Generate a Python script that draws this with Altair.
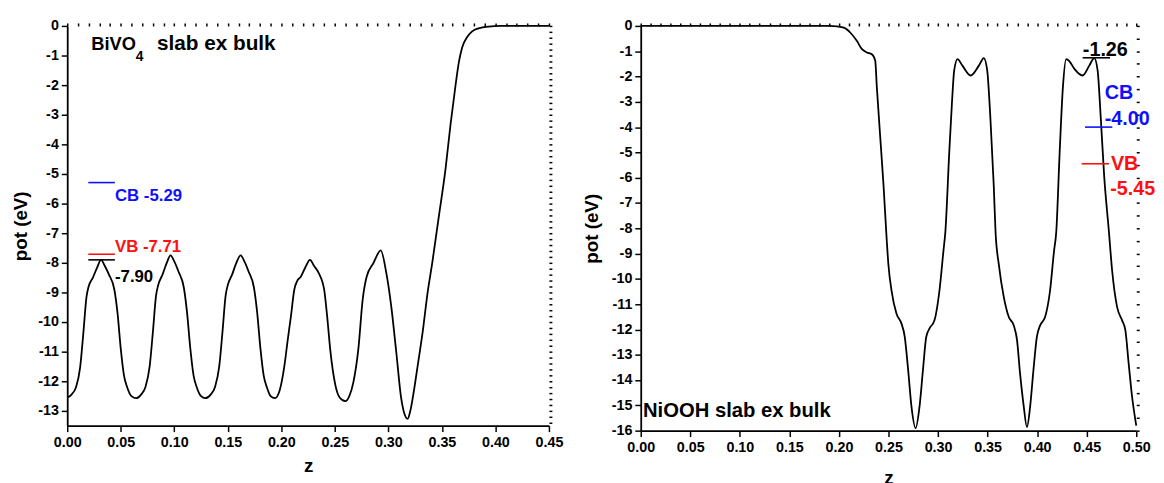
import altair as alt
import pandas as pd

FONT = "Liberation Sans"

# ---------------- BiVO4 potential profile ----------------
BIVO_Z = [0.000, 0.004, 0.008, 0.012, 0.015, 0.018, 0.020, 0.024, 0.028, 0.0316,
          0.035, 0.039, 0.044, 0.047, 0.050, 0.053, 0.056, 0.060, 0.0645,
          0.069, 0.073, 0.077, 0.080, 0.083, 0.085, 0.089, 0.093, 0.0965,
          0.100, 0.104, 0.109, 0.112, 0.115, 0.118, 0.121, 0.125, 0.129,
          0.134, 0.138, 0.142, 0.145, 0.148, 0.150, 0.154, 0.158, 0.162,
          0.1655, 0.1695, 0.1745, 0.1775, 0.1805, 0.1835, 0.1865, 0.190, 0.194,
          0.1985, 0.2029, 0.206, 0.209, 0.2121, 0.215, 0.2182, 0.2225, 0.2268,
          0.2305, 0.235, 0.240, 0.2428, 0.2459, 0.2505, 0.2545, 0.2597,
          0.2635, 0.2674, 0.272, 0.276, 0.2797, 0.2859, 0.2929,
          0.2981, 0.3027, 0.3074, 0.312, 0.315, 0.318, 0.3205, 0.3227, 0.3274,
          0.332, 0.3366, 0.341, 0.347, 0.3535, 0.358, 0.3627, 0.366, 0.369,
          0.3735, 0.378, 0.3842, 0.3934, 0.405, 0.45]
BIVO_POT = [-12.55, -12.45, -12.22, -11.55, -10.40, -9.15, -8.80, -8.50, -8.15, -7.90,
            -8.10, -8.40, -8.90, -9.70, -10.90, -11.80, -12.20, -12.50, -12.57,
            -12.45, -12.20, -11.50, -10.35, -9.10, -8.75, -8.40, -8.00, -7.75,
            -7.95, -8.30, -8.85, -9.70, -10.90, -11.80, -12.20, -12.50, -12.57,
            -12.45, -12.20, -11.50, -10.35, -9.10, -8.75, -8.40, -8.00, -7.75,
            -7.95, -8.30, -8.85, -9.70, -10.90, -11.80, -12.20, -12.50, -12.57,
            -12.30, -11.47, -10.60, -9.80, -8.91, -8.60, -8.47, -8.15, -7.90,
            -8.10, -8.35, -8.90, -9.80, -11.00, -12.13, -12.55, -12.67,
            -12.50, -12.02, -10.90, -9.24, -8.47, -8.02, -7.58,
            -8.35, -9.47, -11.02, -12.58, -13.10, -13.27, -13.00, -12.58, -11.47,
            -10.35, -9.02, -8.00, -6.47, -4.80, -3.35, -2.02, -1.20, -0.72,
            -0.38, -0.19, -0.08, -0.02, 0.0, 0.0]

BIVO_LEVEL_VALUES = [-5.29, -7.71, -7.90]
BIVO_LEVEL_COLORS = ["#1010ff", "#ff1010", "#000000"]
BIVO_LEVEL_Z1 = [0.0197, 0.0197, 0.0197]
BIVO_LEVEL_Z2 = [0.0445, 0.0445, 0.0445]
BIVO_LABELS = ["CB -5.29", "VB -7.71", "-7.90"]
BIVO_LABEL_Z = [0.0446, 0.0446, 0.0446]
BIVO_LABEL_POT = [-5.91, -7.63, -8.65]

# ---------------- NiOOH potential profile ----------------
NIOOH_Z = [0.000, 0.190, 0.198, 0.205, 0.2116, 0.2182, 0.2232, 0.2282, 0.2332, 0.2366,
           0.2382, 0.2416, 0.245, 0.2483, 0.2499, 0.2531, 0.2581, 0.2631, 0.2664,
           0.2698, 0.2731, 0.2774, 0.2814, 0.2848, 0.2881, 0.2914, 0.2964, 0.3014,
           0.3054, 0.3074, 0.3113, 0.314, 0.3163, 0.3196, 0.3246, 0.3329, 0.3412,
           0.3462, 0.3496, 0.3529, 0.3562, 0.358, 0.3613, 0.3664, 0.3714, 0.3764,
           0.3797, 0.3827, 0.3864, 0.3897, 0.3930, 0.3963, 0.3997, 0.403, 0.408,
           0.413, 0.417, 0.4193, 0.4227, 0.426, 0.4293, 0.4326, 0.4376, 0.4459,
           0.4526, 0.4576, 0.461, 0.4643, 0.4676, 0.4724, 0.4757, 0.4807, 0.4857,
           0.489, 0.4923, 0.4957, 0.500]
NIOOH_POT = [0.00, 0.00, -0.02, -0.07, -0.27, -0.60, -0.92, -1.05, -1.12, -1.37,
             -2.40, -4.36, -6.31, -8.52, -9.43, -10.47, -11.38, -11.77, -12.29,
             -13.59, -15.02, -15.90, -15.02, -13.59, -12.29, -11.96, -11.64, -10.47,
             -8.91, -8.13, -5.01, -3.06, -1.76, -1.31, -1.57, -1.96, -1.57,
             -1.27, -1.76, -3.71, -6.31, -8.13, -9.43, -10.73, -11.51, -11.84,
             -12.42, -13.72, -15.02, -15.86, -15.02, -13.59, -12.29, -11.84, -11.51,
             -10.47, -8.91, -8.13, -5.01, -2.41, -1.31, -1.40, -1.70, -1.96,
             -1.57, -1.27, -1.76, -3.71, -5.92, -8.13, -9.69, -11.12, -11.64,
             -12.03, -13.33, -14.63, -15.80]

NIOOH_LEVEL_VALUES = [-1.26, -4.00, -5.45]
NIOOH_LEVEL_COLORS = ["#000000", "#1010ff", "#ff1010"]
NIOOH_LEVEL_Z1 = [0.4459, 0.4483, 0.4449]
NIOOH_LEVEL_Z2 = [0.4735, 0.4758, 0.4725]
NIOOH_LABELS = ["-1.26", "CB", "-4.00", "VB", "-5.45"]
NIOOH_LABEL_COLORS = ["#000000", "#1010ff", "#1010ff", "#ff1010", "#ff1010"]
NIOOH_LABEL_Z = [0.4461, 0.4682, 0.4682, 0.4744, 0.4737]
NIOOH_LABEL_POT = [-1.18, -2.87, -3.91, -5.69, -6.70]

# ---------------- ticks ----------------
BIVO_X_MAJOR = [round(0.05 * i, 2) for i in range(0, 10)]
BIVO_X_MINOR = [round(0.01 * i, 2) for i in range(0, 46)]
NIOOH_X_MAJOR = [round(0.05 * i, 2) for i in range(0, 11)]
NIOOH_X_MINOR = [round(0.01 * i, 2) for i in range(0, 51)]
BIVO_Y_MAJOR = [-i for i in range(0, 14)]
BIVO_Y_MINOR = [round(-0.2 * i, 1) for i in range(0, 68)]
NIOOH_Y_MAJOR = [-i for i in range(0, 17)]
NIOOH_Y_MINOR = [round(-0.5 * i, 1) for i in range(0, 33)]


def major_x(values, title_y):
    return alt.Axis(
        values=values, title="z", titleY=title_y, titleBaseline="middle",
        format=".2f", tickSize=6, labelOverlap=False, labelFlush=False,
        labelPadding=4, grid=False, labelFont=FONT, labelFontWeight=700,
        labelFontSize=14.5,
    )


def major_y(values, title_x, title_y):
    return alt.Axis(
        values=values, title="pot (eV)", titleX=title_x, titleY=title_y,
        titleBaseline="middle", titleAngle=-90,
        labelExpr="'' + round(datum.value)", tickSize=6,
        labelOverlap=False, labelFlush=False, labelPadding=3, grid=False,
        labelFont=FONT, labelFontWeight=700, labelFontSize=14.5,
    )


def minor_axis(values):
    return alt.Axis(values=values, labels=False, domain=False, title=None,
                    tickSize=3, grid=False)


def panel(zs, pots, xdom, ydom, xmaj, xmin, ymaj, ymin, xt_y, yt_x, yt_y,
          lv, lcol, lz1, lz2, labels, lab_col, lab_z, lab_pot, lab_size,
          titles, w, h):
    xs = alt.Scale(domain=xdom, nice=False, zero=False)
    ys = alt.Scale(domain=ydom, nice=False, zero=False)
    curve = alt.Chart(pd.DataFrame({"z": zs, "pot": pots})).mark_line(
        color="black", strokeWidth=1.8, interpolate="monotone"
    ).encode(
        x=alt.X("z:Q", scale=xs, axis=major_x(xmaj, xt_y)),
        y=alt.Y("pot:Q", scale=ys, axis=major_y(ymaj, yt_x, yt_y)),
    )
    rules = alt.Chart(pd.DataFrame({"z1": lz1, "z2": lz2, "v": lv, "c": lcol})).mark_rule(
        strokeWidth=1.6
    ).encode(
        x=alt.X("z1:Q", scale=xs, axis=minor_axis(xmin)), x2="z2:Q",
        y=alt.Y("v:Q", scale=ys, axis=minor_axis(ymin)),
        color=alt.Color("c:N", scale=None),
    )
    layers = [curve, rules]
    lab = alt.Chart(pd.DataFrame({"z": lab_z, "pot": lab_pot, "t": labels, "c": lab_col})).mark_text(
        align="left", baseline="alphabetic", font=FONT, fontWeight="bold", fontSize=lab_size
    ).encode(
        x=alt.X("z:Q", scale=xs, axis=None), y=alt.Y("pot:Q", scale=ys, axis=None),
        text="t:N", color=alt.Color("c:N", scale=None),
    )
    layers.append(lab)
    for (t, tz, tp, fs) in titles:
        layers.append(
            alt.Chart(pd.DataFrame({"z": [tz], "pot": [tp], "t": [t]})).mark_text(
                align="left", baseline="alphabetic", font=FONT, fontWeight="bold",
                fontSize=fs, color="black"
            ).encode(
                x=alt.X("z:Q", scale=xs, axis=None), y=alt.Y("pot:Q", scale=ys, axis=None),
                text="t:N",
            )
        )
    return alt.layer(*layers).resolve_axis(x="independent", y="independent").properties(
        width=w, height=h)


left = panel(
    BIVO_Z, BIVO_POT, [0, 0.45], [-13.5, 0],
    BIVO_X_MAJOR, BIVO_X_MINOR, BIVO_Y_MAJOR, BIVO_Y_MINOR,
    40, -47.5, 202.5,
    BIVO_LEVEL_VALUES, BIVO_LEVEL_COLORS, BIVO_LEVEL_Z1, BIVO_LEVEL_Z2,
    BIVO_LABELS, BIVO_LEVEL_COLORS, BIVO_LABEL_Z, BIVO_LABEL_POT, 17,
    [("BiVO", 0.0224, -0.82, 18.5), ("4", 0.0640, -1.18, 14), ("slab ex bulk", 0.0839, -0.82, 21)],
    488, 405,
)

right = panel(
    NIOOH_Z, NIOOH_POT, [0, 0.5], [-16, 0],
    NIOOH_X_MAJOR, NIOOH_X_MINOR, NIOOH_Y_MAJOR, NIOOH_Y_MINOR,
    48, -49.3, 205,
    NIOOH_LEVEL_VALUES, NIOOH_LEVEL_COLORS, NIOOH_LEVEL_Z1, NIOOH_LEVEL_Z2,
    NIOOH_LABELS, NIOOH_LABEL_COLORS, NIOOH_LABEL_Z, NIOOH_LABEL_POT, 20,
    [("NiOOH slab ex bulk", 0.0023, -15.48, 20.5)],
    502, 410,
)

chart = alt.hconcat(left, right, spacing=19).properties(
    padding={"left": 3, "top": 7, "right": 0, "bottom": 0}
).configure_view(stroke=None).configure_axis(
    domainColor="black", domainWidth=1.8, tickColor="black", tickWidth=1.5,
    labelFont=FONT, labelFontSize=14.5, labelFontWeight=700, labelColor="black",
    titleFont=FONT, titleFontSize=19, titleFontWeight="bold", titleColor="black",
)

chart.save("out.html", embed_options={"renderer": "svg", "actions": False})
